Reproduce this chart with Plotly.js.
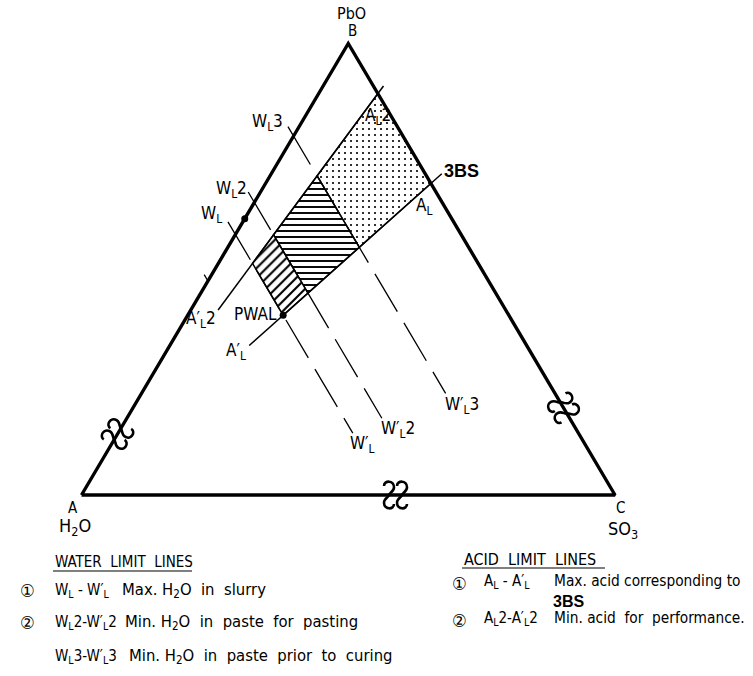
<!DOCTYPE html>
<html>
<head>
<meta charset="utf-8">
<script src="https://cdn.plot.ly/plotly-3.0.1.min.js"></script>
<style>
  html, body { margin: 0; padding: 0; background: #fff; }
  #chart { width: 753px; height: 676px; }
</style>
</head>
<body>
<div id="chart"></div>
<script>
// ---- Composition data (fractions of H2O, PbO, SO3) ----
const vertexNames = ['A', 'B', 'C'];
const vertexComponents = ['H<sub>2</sub>O', 'PbO', 'SO<sub>3</sub>'];

// Water limit lines: lines of constant H2O fraction
const waterLineNames = ['W<sub>L</sub>', 'W<sub>L</sub>2', 'W<sub>L</sub>3'];
const waterLineEndNames = ['W′<sub>L</sub>', 'W′<sub>L</sub>2', 'W′<sub>L</sub>3'];
const waterLineH2O = [0.423, 0.352, 0.205];
const waterLineStartPbO = [0.605, 0.671, 0.816];
const waterLineEndPbO = [0.137, 0.170, 0.225];

// Acid limit lines: constant PbO/(PbO+SO3), running out of the H2O corner
const acidLineNames = ['A<sub>L</sub>', 'A<sub>L</sub>2'];
const acidLineEndNames = ['A′<sub>L</sub>', 'A′<sub>L</sub>2'];
const acidLinePbORatio = [0.690, 0.889];
const acidLineStartH2O = [-0.031, -0.019];
const acidLineEndH2O = [0.520, 0.539];

// Marks on the H2O–PbO edge
const edgeDotPbO = [0.612];
const edgeTickH2O = [0.526];

// Legend texts
const waterLegendTitle = 'WATER  LIMIT  LINES';
const waterLegendMarks = ['①', '②', ''];
const waterLegendKeys = ['W<sub>L</sub> - W′<sub>L</sub>', 'W<sub>L</sub>2-W′<sub>L</sub>2', 'W<sub>L</sub>3-W′<sub>L</sub>3'];
const waterLegendTexts = ['Max. H<sub>2</sub>O  in  slurry', 'Min. H<sub>2</sub>O  in  paste  for  pasting', 'Min. H<sub>2</sub>O  in  paste  prior  to  curing'];
const acidLegendTitle = 'ACID  LIMIT  LINES';
const acidLegendMarks = ['①', '②'];
const acidLegendKeys = ['A<sub>L</sub> - A′<sub>L</sub>', 'A<sub>L</sub>2-A′<sub>L</sub>2'];
const acidLegendTexts = ['Max. acid corresponding to', 'Min. acid  for  performance.'];
const acidLegendExtra = '3BS';

// ---- Geometry helpers: composition -> plane (SO3 corner right, PbO corner top) ----
function toXY(h2o, pbo, so3) { return { x: so3 + pbo / 2, y: pbo }; }
function onAcidLine(h2o, ratio) { const rest = 1 - h2o; return toXY(h2o, rest * ratio, rest * (1 - ratio)); }
function onWaterLine(h2o, pbo) { return toXY(h2o, pbo, 1 - h2o - pbo); }
function path(points, close) {
  const pts = close ? points.concat([points[0]]) : points;
  return { x: pts.map(p => p.x), y: pts.map(p => p.y) };
}

const ink = '#000';
const font = "'DejaVu Sans Condensed', 'DejaVu Sans', sans-serif";
const boldFont = "'Liberation Sans', Arial, sans-serif";
const nbsp = s => s.replace(/ {2}/g, '\u00a0 ');

const [aW1, aW2, aW3] = waterLineH2O;
const [r1, r2] = acidLinePbORatio;

const traces = [];

// Field regions between the limit lines
const regions = [
  { pts: [onAcidLine(0, r2), onAcidLine(0, r1), onAcidLine(aW3, r1), onAcidLine(aW3, r2)],
    pattern: { shape: '.', size: 6, solidity: 0.1 } },
  { pts: [onAcidLine(aW3, r2), onAcidLine(aW3, r1), onAcidLine(aW2, r1), onAcidLine(aW2, r2)],
    pattern: { shape: '-', size: 6, solidity: 0.32 } },
  { pts: [onAcidLine(aW2, r2), onAcidLine(aW2, r1), onAcidLine(aW1, r1), onAcidLine(aW1, r2)],
    pattern: { shape: '/', size: 7, solidity: 0.3 } }
];
regions.forEach(r => {
  traces.push(Object.assign(path(r.pts, true), {
    type: 'scatter', mode: 'lines', fill: 'toself',
    fillcolor: '#fff',
    fillpattern: Object.assign({ fgcolor: ink, bgcolor: '#fff', fillmode: 'replace' }, r.pattern),
    line: { color: ink, width: 1.5 }, hoverinfo: 'skip'
  }));
});

// Water limit lines (dashed)
waterLineH2O.forEach((h, i) => {
  traces.push(Object.assign(path([onWaterLine(h, waterLineStartPbO[i]), onWaterLine(h, waterLineEndPbO[i])]), {
    type: 'scatter', mode: 'lines', line: { color: ink, width: 1.3, dash: '44px,13px' }, hoverinfo: 'skip'
  }));
});

// Acid limit lines (solid)
acidLinePbORatio.forEach((r, i) => {
  traces.push(Object.assign(path([onAcidLine(acidLineStartH2O[i], r), onAcidLine(acidLineEndH2O[i], r)]), {
    type: 'scatter', mode: 'lines', line: { color: ink, width: 1.5 }, hoverinfo: 'skip'
  }));
});

// Tick on the H2O–PbO edge
edgeTickH2O.forEach(h => {
  traces.push(Object.assign(path([onWaterLine(h, 1 - h), onWaterLine(h, 1 - h + 0.014)]), {
    type: 'scatter', mode: 'lines', line: { color: ink, width: 1.3 }, hoverinfo: 'skip'
  }));
});

// Triangle A (H2O) - B (PbO) - C (SO3)
const corners = [toXY(1, 0, 0), toXY(0, 1, 0), toXY(0, 0, 1)];
traces.push(Object.assign(path(corners, true), {
  type: 'scatter', mode: 'lines', line: { color: ink, width: 3.4 }, hoverinfo: 'skip'
}));

// Points: PWAL and the edge dot
const pwal = onAcidLine(aW1, r1);
const edgeDots = edgeDotPbO.map(b => toXY(1 - b, b, 0));
traces.push({
  type: 'scatter', mode: 'markers',
  x: [pwal.x].concat(edgeDots.map(p => p.x)), y: [pwal.y].concat(edgeDots.map(p => p.y)),
  marker: { color: ink, size: 7 }, hoverinfo: 'skip'
});

// ---- Labels ----
const annotations = [];
function label(pt, text, dx, dy, size, family) {
  annotations.push({
    x: pt.x, y: pt.y, xref: 'x', yref: 'y', text: text, showarrow: false,
    xshift: dx, yshift: dy, xanchor: 'center', yanchor: 'middle',
    font: { family: family || font, size: size || 17, color: ink }
  });
}

const vertexLabelShift = [[-9, -13], [4, 13], [5, -13]];
const componentLabelShift = [[-7, -32], [3, 30], [8, -35]];
const componentLabelSize = [18, 16, 18];
corners.forEach((c, i) => {
  label(c, vertexNames[i], vertexLabelShift[i][0], vertexLabelShift[i][1], 15);
  label(c, vertexComponents[i], componentLabelShift[i][0], componentLabelShift[i][1], componentLabelSize[i]);
});

const waterStartShift = [[-16, 7], [-17, 3], [-20, 4]];
const waterEndShift = [[10, -11], [16, -11], [16, -12]];
waterLineH2O.forEach((h, i) => {
  label(onWaterLine(h, waterLineStartPbO[i]), waterLineNames[i], waterStartShift[i][0], waterStartShift[i][1]);
  label(onWaterLine(h, waterLineEndPbO[i]), waterLineEndNames[i], waterEndShift[i][0], waterEndShift[i][1]);
});

const acidEdgeShift = [[-7, -23], [0, -23]];
const acidEndShift = [[-13, -6], [-17, -10]];
acidLinePbORatio.forEach((r, i) => {
  label(onAcidLine(0, r), acidLineNames[i], acidEdgeShift[i][0], acidEdgeShift[i][1]);
  label(onAcidLine(acidLineEndH2O[i], r), acidLineEndNames[i], acidEndShift[i][0], acidEndShift[i][1]);
});
label(onAcidLine(acidLineStartH2O[0], r1), '<b>3BS</b>', 20, 3, 18, boldFont);
label(pwal, 'PWAL', -28, 1);

// Legend blocks (paper coordinates)
const W = 753, H = 676;
function paperText(px, py, text, size, family, anchor) {
  annotations.push({
    x: px / W, y: 1 - py / H, xref: 'paper', yref: 'paper', text: nbsp(text), showarrow: false,
    xanchor: anchor || 'left', yanchor: 'middle', font: { family: family || font, size: size || 16.5, color: ink }
  });
}
const waterRowsY = [590, 622, 656];
paperText(53, 562, waterLegendTitle, 15);
waterLegendMarks.forEach((m, i) => {
  if (m) paperText(27, waterRowsY[i], m, 18, font, 'center');
  paperText(53, waterRowsY[i], waterLegendKeys[i], 15);
});
paperText(120, waterRowsY[0], waterLegendTexts[0]);
paperText(123, waterRowsY[1], waterLegendTexts[1]);
paperText(127, waterRowsY[2], waterLegendTexts[2]);

const acidRowsY = [581, 618];
paperText(462, 559, acidLegendTitle, 16);
acidLegendMarks.forEach((m, i) => {
  paperText(459, acidRowsY[i] + 2, m, 18, font, 'center');
  paperText(482, acidRowsY[i], acidLegendKeys[i], 15);
});
paperText(552, acidRowsY[0], acidLegendTexts[0], 15.3);
paperText(551, 601, '<b>' + acidLegendExtra + '</b>', 16, boldFont);
paperText(552, acidRowsY[1], acidLegendTexts[1], 15.3);

// ---- Shapes: axis-break marks on the sides and legend underlines ----
const shapes = [];
function breakMark(pt, sideAngle) {
  const w = 5, h = 13, gap = 6.5;
  const th = sideAngle * Math.PI / 180;
  const e1 = [Math.cos(th), Math.sin(th)], e2 = [-Math.sin(th), Math.cos(th)];
  // one reversed-S stroke crossing the side
  const curve = [[-w, 0.7 * h], [-w, 1.15 * h], [w, 1.15 * h], [w, 0.6 * h], [w, 0.25 * h], [0, 0.15 * h], [0, 0],
                 [0, -0.15 * h], [-w, -0.25 * h], [-w, -0.6 * h], [-w, -1.15 * h], [w, -1.15 * h], [w, -0.7 * h]];
  let d = '';
  [-gap, gap].forEach(off => {
    const p = curve.map(([s, t]) => [(s + off) * e1[0] + t * e2[0], (s + off) * e1[1] + t * e2[1]]);
    const f = q => q[0].toFixed(2) + ',' + q[1].toFixed(2);
    d += 'M' + f(p[0]);
    for (let k = 1; k < p.length; k += 3) d += ' C' + f(p[k]) + ' ' + f(p[k + 1]) + ' ' + f(p[k + 2]);
    d += ' ';
  });
  shapes.push({
    type: 'path', xref: 'x', yref: 'y', xsizemode: 'pixel', ysizemode: 'pixel',
    xanchor: pt.x, yanchor: pt.y, path: d.trim(), line: { color: ink, width: 2.6 }, fillcolor: 'rgba(0,0,0,0)'
  });
}
const plotW = 533.5, plotH = 451.5;
const sideAB = Math.atan2(plotH, plotW / 2) * 180 / Math.PI;
breakMark(toXY(1 - 0.135, 0.135, 0), sideAB);
breakMark(toXY(0, 0.193, 1 - 0.193), 180 - sideAB);
breakMark(toXY(1 - 0.5886, 0, 0.5886), 0);

function underline(x0, x1, py) {
  shapes.push({ type: 'line', xref: 'paper', yref: 'paper', x0: x0 / W, x1: x1 / W, y0: 1 - py / H, y1: 1 - py / H,
    line: { color: ink, width: 1.2 } });
}
underline(53, 192, 571);
underline(462, 605, 568);

// Axes scaled so that the triangle spans 533.5 px by 451.5 px
const x0px = 81.5, y0px = 495;
const layout = {
  width: W, height: H,
  margin: { l: 0, r: 0, t: 0, b: 0 },
  paper_bgcolor: '#fff', plot_bgcolor: '#fff',
  showlegend: false,
  xaxis: { range: [-x0px / plotW, (W - x0px) / plotW], visible: false, fixedrange: true },
  yaxis: { range: [(y0px - H) / plotH, y0px / plotH], visible: false, fixedrange: true },
  annotations: annotations,
  shapes: shapes
};

Plotly.newPlot('chart', traces, layout, { displayModeBar: false, staticPlot: true });
</script>
</body>
</html>
